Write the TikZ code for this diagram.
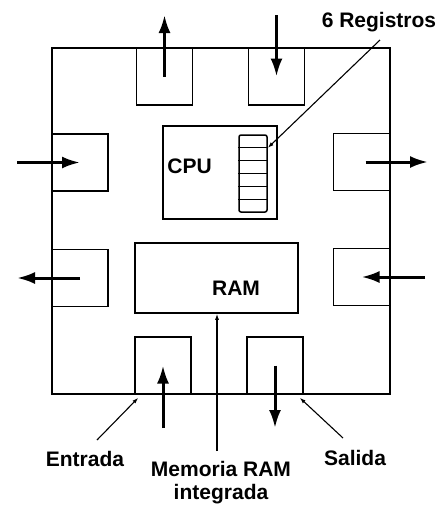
\documentclass[tikz,border=0pt]{standalone}
\usepackage{fontspec}
\setmainfont{Liberation Sans}
\usetikzlibrary{arrows.meta, positioning, calc}
\tikzset{
  % chip outline and the boxes on it
  chip/.style={draw, line width=1.6pt, minimum width=338pt, minimum height=346pt, inner sep=0pt},
  pad/.style={draw, line width=1.5pt, minimum width=56pt, minimum height=57pt, inner sep=0pt},
  blk/.style={draw, line width=1.5pt, inner sep=0pt},
  % thick in/out arrows and thin leader lines
  io/.style={-{Latex[length=18pt,width=12pt]}, line width=3pt},
  lead/.style={-{Latex[length=6pt,width=4pt]}, line width=1.1pt},
  lbl/.style={font=\fontsize{21}{23}\selectfont\bfseries, inner sep=0pt},
}

\begin{document}
\begin{tikzpicture}[x=1pt, y=-1pt]
\useasboundingbox (0,0) rectangle (440,507);

% =====================================================================
% CHIP BODY
% =====================================================================
\node[chip] (chip) at (221,221) {};

% -- pads along the edges --
\node[pad] (padT1) at (164.5,76.5) {};
\node[pad] (padT2) at (276.5,76.5) {};
\node[pad] (padL1) at (80,162.5) {};
\node[pad] (padR1) at (361.5,162) {};
\node[pad] (padL2) at (80,278) {};
\node[pad] (padR2) at (361.5,277) {};
\node[pad] (padB1) at (163,365.5) {};
\node[pad] (padB2) at (275,365.5) {};

% -- CPU with its register stack --
\node[blk, minimum width=114pt, minimum height=93pt] (cpu) at (220,172.5) {};
\node[lbl, anchor=west] (cpulab) at ($(cpu.west)+(5,-6)$) {CPU};
\node[blk, rounded corners=2pt, minimum width=28pt, minimum height=77pt] (regs) at (253,173.5) {};
\foreach \k in {1,...,5}
  \draw[line width=1.3pt] ($(regs.north west)!\k/6!(regs.south west)$) -- ($(regs.north east)!\k/6!(regs.south east)$);

% -- integrated RAM --
\node[blk, minimum width=163pt, minimum height=70pt] (ram) at (216.5,278) {};
\node[lbl, anchor=base] (ramlab) at (236,295) {RAM};

% =====================================================================
% IN / OUT ARROWS
% =====================================================================
\coordinate (oT1) at ($(padT1.center)+(0,-61.5)$);
\coordinate (oT2) at ($(padT2.center)+(0,-61.5)$);
\coordinate (oL1) at ($(padL1.center)+(-63,0)$);
\coordinate (oR1) at ($(padR1.center)+(66.5,0)$);
\coordinate (oL2) at ($(padL2.center)+(-63,0)$);
\coordinate (oR2) at ($(padR2.center)+(63.5,0)$);
\coordinate (oB1) at ($(padB1.center)+(0,62.5)$);
\coordinate (oB2) at ($(padB2.center)+(0,62.5)$);

\draw[io] (padT1.center) -- (oT1);
\draw[io] (oT2) -- (padT2.center);
\draw[io] (oL1) -- (padL1.center);
\draw[io] ([xshift=4pt]padR1.center) -- (oR1);
\draw[io] (padL2.center) -- (oL2);
\draw[io] (oR2) -- (padR2.center);
\draw[io] (oB1) -- (padB1.center);
\draw[io] (padB2.center) -- (oB2);

% =====================================================================
% LABELS AND LEADERS
% =====================================================================
\node[lbl, anchor=base] (reglab) at (379,27) {6 Registros};
\coordinate (regfoot) at (380,40);
\draw[lead] (regfoot) -- (regs.60);

\node[lbl, anchor=base] (entlab) at (85,466) {Entrada};
\coordinate (entfoot) at (97,440);
\draw[lead] (entfoot) -- ([shift={(4,3)}]padB1.south west);

\node[lbl, anchor=base] (sallab) at (355,465) {Salida};
\coordinate (salfoot) at (343,438);
\draw[lead] (salfoot) -- ([shift={(-4,3)}]padB2.south east);

\node[lbl, align=center, anchor=north] (memlab) at (221,461) {Memoria RAM\\integrada};
\coordinate (memfoot) at (217,451);
\draw[lead] (memfoot) -- (memfoot |- ram.south);

\end{tikzpicture}
\end{document}
